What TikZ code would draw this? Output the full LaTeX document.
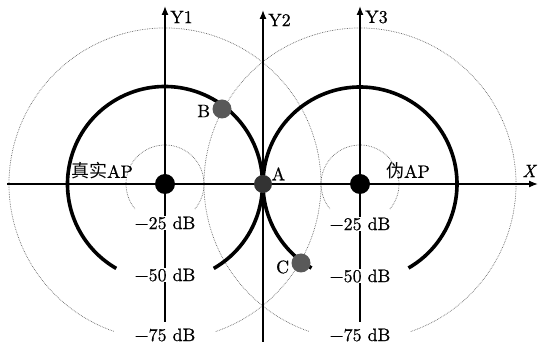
\documentclass[tikz,border=0pt]{standalone}
\usepackage{fontspec}
\setmainfont{lmroman10-regular}[Extension=.otf,ItalicFont=lmroman10-italic,FakeBold=0.6]
\newfontfamily\cjk{Noto Sans CJK SC}
\usetikzlibrary{arrows.meta,calc}
\begin{document}
\begin{tikzpicture}[x=1pt,y=1pt,
  font=\fontsize{18}{21}\selectfont,
  axis/.style={line width=1.3pt,-{Latex[length=9pt,width=7pt]}},
  ring/.style={densely dotted,black!60,line width=0.7pt},
  thickarc/.style={line width=3.6pt},
  lvl/.style={fill=white,inner sep=1pt},
  ap/.style={circle,fill=black,minimum size=20pt,inner sep=0pt},
  pt/.style={circle,fill=black!65,minimum size=19pt,inner sep=0pt},
  lbl/.style={inner sep=1pt}]
\useasboundingbox (0,0) rectangle (539,-347);
% centres
\coordinate (T) at (165,-184);
\coordinate (F) at (360,-184);
% dotted rings
\foreach \c in {T,F}{
  \draw[ring] (\c) ++(-40:39) arc[start angle=-40,end angle=220,radius=39];
  \draw[ring] (\c) ++(-71:156) arc[start angle=-71,end angle=251,radius=156];
}
% axes
\coordinate (xs) at (7,-184);
\coordinate (xe) at (538,-184);
\draw[axis] (xs) -- (xe);
\coordinate (y1s) at (165,-322);
\coordinate (y1e) at (165,-6);
\coordinate (y2s) at (263,-342);
\coordinate (y2e) at (263,-10);
\coordinate (y3s) at (360,-322);
\coordinate (y3e) at (360,-6);
\draw[axis] (y1s) -- (y1e);
\draw[axis] (y2s) -- (y2e);
\draw[axis] (y3s) -- (y3e);
\node[lbl,anchor=west] (ly1) at (169,-17) {Y1};
\node[lbl,anchor=west] (ly2) at (267,-20) {Y2};
\node[lbl,anchor=west] (ly3) at (364,-17) {Y3};
\node[lbl] (lx) at (529,-171) {\itshape X};
% thick arcs
\draw[thickarc] (T) ++(-60:97.5) arc[start angle=-60,end angle=240,radius=97.5];
\draw[thickarc] (F) ++(-60:97) arc[start angle=-60,end angle=240,radius=97];
% level labels
\node[lvl] (t25) at (165,-223) {−25 dB};
\node[lvl] (t50) at (165,-275) {−50 dB};
\node[lvl] (t75) at (165,-335) {−75 dB};
\node[lvl] (f25) at (360,-224) {−25 dB};
\node[lvl] (f50) at (360,-276) {−50 dB};
\node[lvl] (f75) at (360,-335) {−75 dB};
% AP names
\node[lbl] (lt) at (102,-171) {{\cjk 真实}AP};
\node[lbl] (lf) at (408,-171) {{\cjk 伪}AP};
% dots
\node[ap] (dT) at (T) {};
\node[ap] (dF) at (F) {};
\node[circle,fill=black!80,minimum size=18pt,inner sep=0pt] (A) at (263,-184) {};
\node[pt] (B) at (222,-109) {};
\node[pt] (C) at (301,-263) {};
\node[lbl,anchor=east] (lB) at ($(B.west)+(-1,-2)$) {B};
\node[lbl,anchor=south west] (lA) at ($(A.north east)+(1,-4)$) {A};
\node[lbl,anchor=east] (lC) at ($(C.west)+(-1,-4)$) {C};
\end{tikzpicture}
\end{document}
